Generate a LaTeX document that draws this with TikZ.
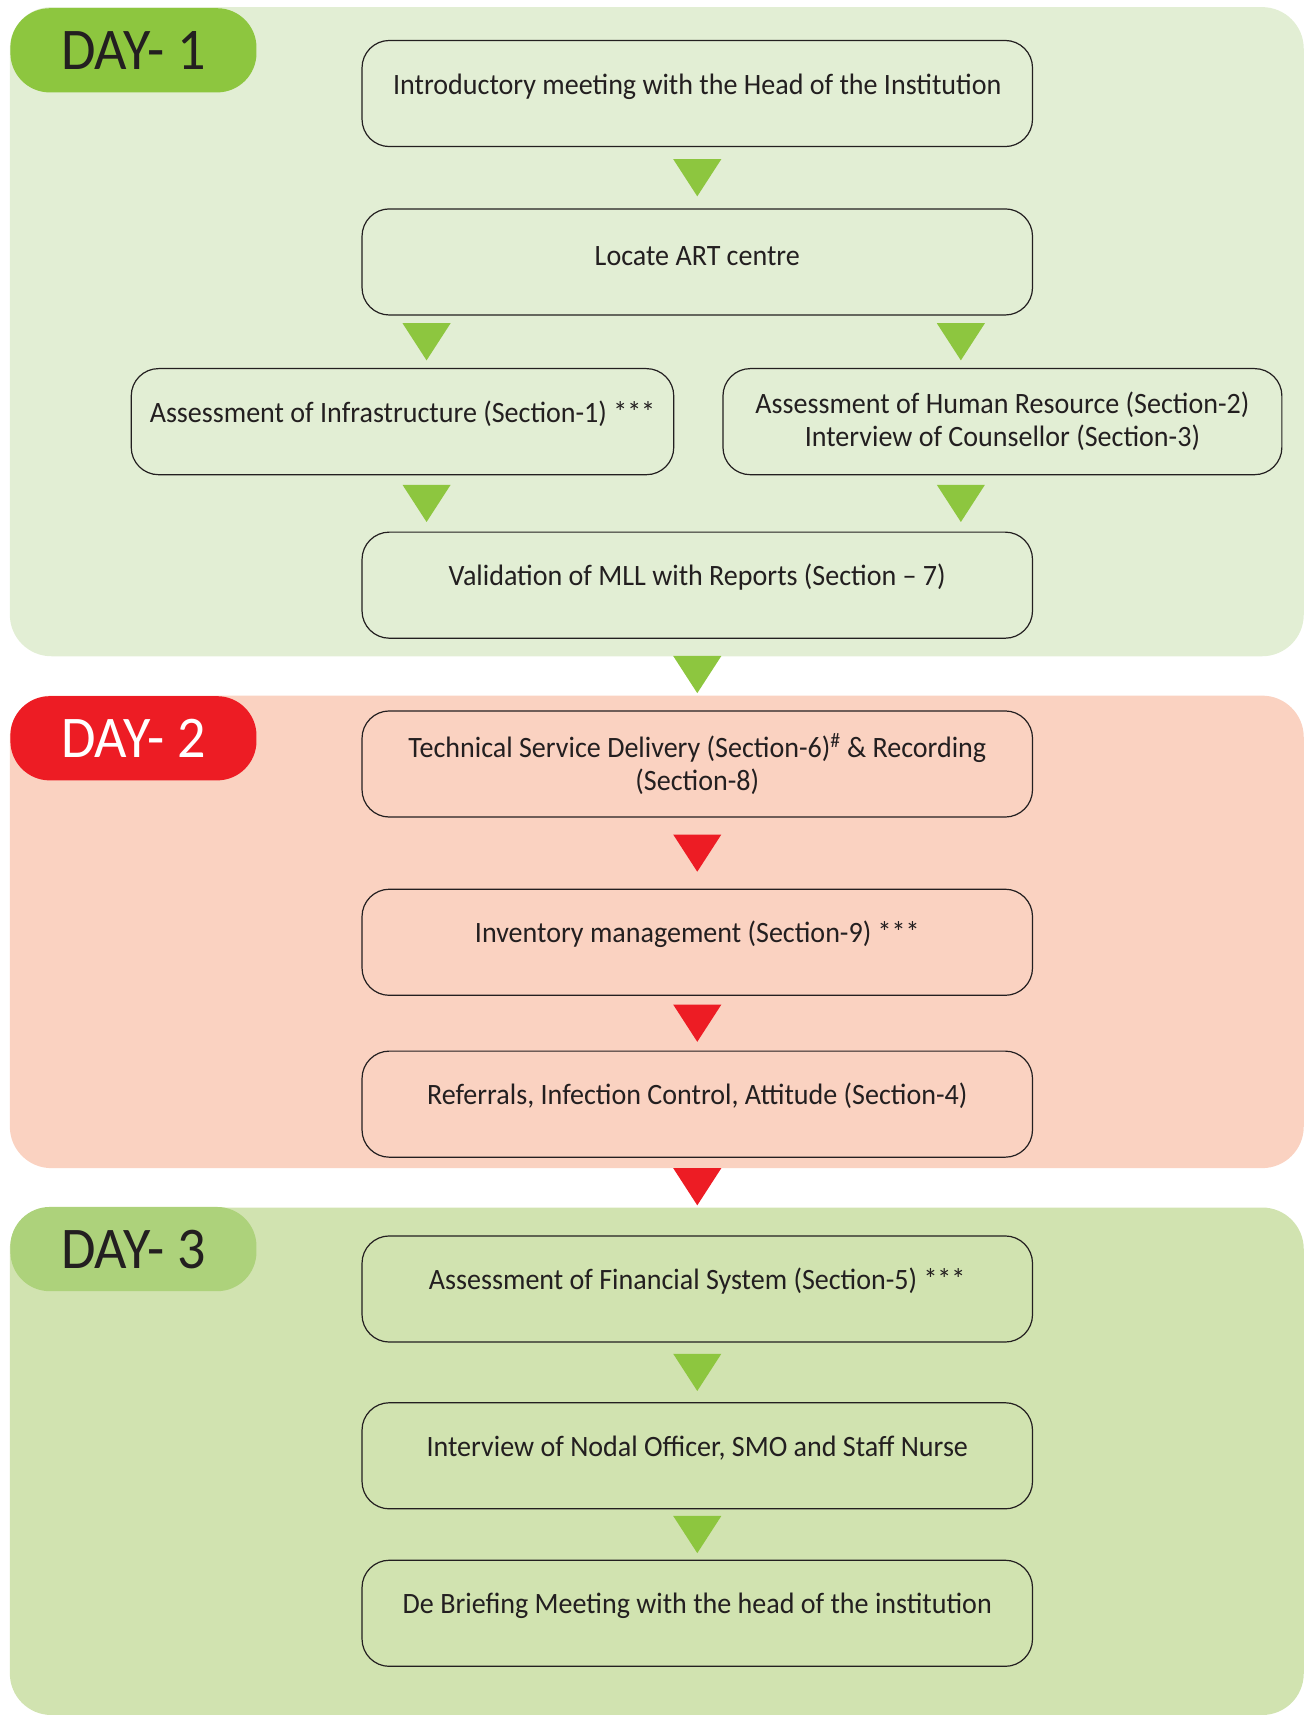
\documentclass[tikz,border=0pt]{standalone}
\usepackage{fontspec}
\setmainfont{Carlito}[FakeStretch=0.95]
\usepackage{tikz}
\usetikzlibrary{positioning,calc}
\definecolor{inkline}{HTML}{231F20}
\definecolor{dayonebg}{HTML}{E2EED4}
\definecolor{dayonetag}{HTML}{8DC63F}
\definecolor{daytwobg}{HTML}{FAD2C1}
\definecolor{daytwotag}{HTML}{ED1C24}
\definecolor{daythreebg}{HTML}{D1E3B0}
\definecolor{daythreetag}{HTML}{ADD27B}

\begin{document}
\begin{tikzpicture}[x=1pt, y=-1pt, semithick,
      stage/.style={draw=inkline,line width=1.1pt,rounded corners=25pt,minimum width=613pt,minimum height=97pt,align=center,text=inkline,font=\fontsize{27}{30}\selectfont},
      oneline/.style={text height=18pt,text depth=17pt},
      daytag/.style={rounded corners=36pt,minimum width=225pt,minimum height=77pt,font=\fontsize{54}{58}\selectfont},
      gtri/.style={fill=dayonetag}, rtri/.style={fill=daytwotag}]
      \useasboundingbox (0,0) rectangle (1192,1568);
      \fill[dayonebg,rounded corners=38pt] (9,6.5) rectangle (1192,600);
      \fill[daytwobg,rounded corners=38pt] (9,636) rectangle (1192,1068);
      \fill[daythreebg,rounded corners=38pt] (9,1104) rectangle (1192,1568);
      \node[daytag,fill=dayonetag,text=inkline]     at (122,46)   (dayone) {DAY- 1};
      \node[daytag,fill=daytwotag,text=white]       at (122,675)  (daytwo) {DAY- 2};
      \node[daytag,fill=daythreetag,text=inkline]   at (122,1142) (daythree) {DAY- 3};
      \node[stage,oneline]    at (637.5,85.5)  (intro) {Introductory meeting with the Head of the Institution};
      \node[stage,oneline,text depth=12pt] at (637.5,239.5) (locate) {Locate ART centre};
      \node[stage,oneline,minimum width=496pt] at (368,385.5) (infra) {Assessment of Infrastructure (Section-1) ***};
      \node[stage,minimum width=511pt]         at (916.5,385.5) (hr) {Assessment of Human Resource (Section-2)\\Interview of Counsellor (Section-3)};
      \node[stage,oneline]    at (637.5,535)   (mll) {Validation of MLL with Reports (Section -- 7)};
      \node[stage]            at (637.5,698.5) (tsd) {Technical Service Delivery (Section-6)\textsuperscript{\#} \& Recording\\(Section-8)};
      \node[stage,oneline]    at (637.5,861.5) (inv) {Inventory management (Section-9) ***};
      \node[stage,oneline]    at (637.5,1009.5) (refer) {Referrals, Infection Control, Attitude (Section-4)};
      \node[stage,oneline]    at (637.5,1178.5) (fin) {Assessment of Financial System (Section-5) ***};
      \node[stage,oneline]    at (637.5,1331)  (nodal) {Interview of Nodal Officer, SMO and Staff Nurse};
      \node[stage,oneline]    at (637.5,1475)  (debrief) {De Briefing Meeting with the head of the institution};
      \fill[gtri] ($(intro.south)!.5!(locate.north)$) ++(-22,-17) -- ++(44,0) -- ++(-22,34) -- cycle;
      \fill[gtri] ($(infra.north)!.5!(infra.north |- locate.south) + (22,0)$) ++(-22,-17) -- ++(44,0) -- ++(-22,34) -- cycle;
      \fill[gtri] ($(hr.north)!.5!(hr.north |- locate.south) + (-38,0)$) ++(-22,-17) -- ++(44,0) -- ++(-22,34) -- cycle;
      \fill[gtri] ($(infra.south)!.5!(infra.south |- mll.north) + (22,0)$) ++(-22,-17) -- ++(44,0) -- ++(-22,34) -- cycle;
      \fill[gtri] ($(hr.south)!.5!(hr.south |- mll.north) + (-38,0)$) ++(-22,-17) -- ++(44,0) -- ++(-22,34) -- cycle;
      \fill[gtri] ($(mll.south)!.5!(tsd.north)$) ++(-22,-17) -- ++(44,0) -- ++(-22,34) -- cycle;
      \fill[rtri] ($(tsd.south)!.5!(inv.north)$) ++(-22,-17) -- ++(44,0) -- ++(-22,34) -- cycle;
      \fill[rtri] ($(inv.south)!.5!(refer.north)$) ++(-22,-17) -- ++(44,0) -- ++(-22,34) -- cycle;
      \fill[rtri] ($(refer.south)!.5!(fin.north) + (0,-9)$) ++(-22,-17) -- ++(44,0) -- ++(-22,34) -- cycle;
      \fill[gtri] ($(fin.south)!.5!(nodal.north)$) ++(-22,-17) -- ++(44,0) -- ++(-22,34) -- cycle;
      \fill[gtri] ($(nodal.south)!.5!(debrief.north)$) ++(-22,-17) -- ++(44,0) -- ++(-22,34) -- cycle;
    \end{tikzpicture}
\end{document}
